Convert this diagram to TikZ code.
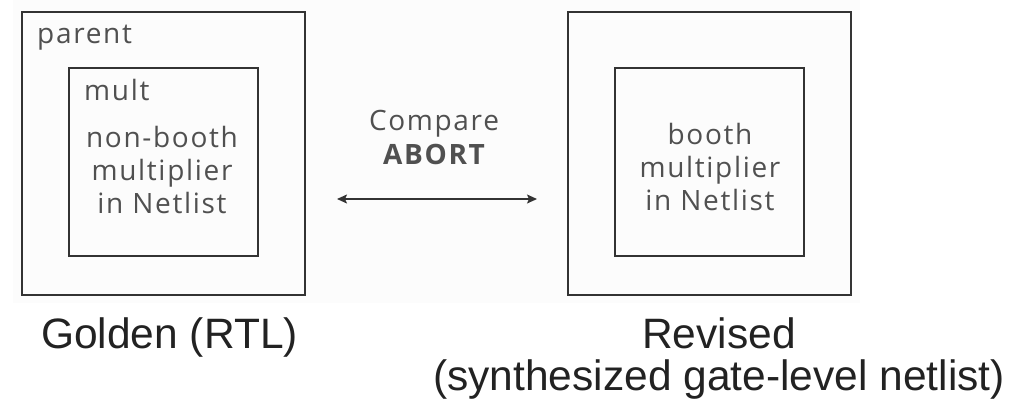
\documentclass[tikz,border=0pt]{standalone}
\usepackage{fontspec}
\usetikzlibrary{arrows.meta}
\newfontfamily\boxfont{Open Sans}[LetterSpace=6]
\newfontfamily\boxfontbold{Open Sans Bold}[LetterSpace=6]
\newfontfamily\capfont{Liberation Sans}
\definecolor{edge}{HTML}{333333}
\definecolor{boxtext}{HTML}{505050}
\definecolor{captext}{HTML}{222222}
\definecolor{panel}{HTML}{FCFCFC}
\tikzset{
  outerbox/.style={draw=edge, line width=2pt, minimum width=283pt, minimum height=283pt, inner sep=0pt},
  innerbox/.style={draw=edge, line width=2pt, minimum width=189pt, minimum height=188pt, inner sep=0pt},
  boxlabel/.style={anchor=base west, inner sep=0pt, text=boxtext, font=\boxfont\fontsize{28}{33}\selectfont},
  boxbody/.style={anchor=base, inner sep=0pt, align=center, text=boxtext, font=\boxfont\fontsize{28}{33}\selectfont},
  caption/.style={anchor=base, inner sep=0pt, align=center, text=captext, font=\capfont\fontsize{42.5}{42}\selectfont},
  link/.style={draw=edge, line width=1.5pt, {Stealth[length=10pt,width=9pt,inset=2pt]}-{Stealth[length=10pt,width=9pt,inset=2pt]}}
}
\begin{document}
\begin{tikzpicture}[x=1pt, y=-1pt]
\useasboundingbox (0,0) rectangle (1032,407);
\fill[panel] (13,0) rectangle (860,303);

% golden design (multi-line nodes are placed by their last baseline)
\node[outerbox] (goldparent) at (163.5,153) {};
\node[innerbox] (goldmult) at (163.5,162) {};
\node[boxlabel] (parentlbl) at (37,43) {parent};
\node[boxlabel] (multlbl) at (84,100) {mult};
\node[boxbody] (goldbody) at (162,213) {non-booth\\multiplier\\in Netlist};

% revised design
\node[outerbox] (revparent) at (709.5,153) {};
\node[innerbox] (revmult) at (709.5,162) {};
\node[boxbody] (revbody) at (710,210) {booth\\multiplier\\in Netlist};

% comparison
\node[boxbody] (cmp) at (434,164) {Compare\\[1pt]{\boxfontbold ABORT}};
\coordinate (arrL) at (337,199);
\coordinate (arrR) at (537,199);
\draw[link] (arrL) -- (arrR);

% captions
\node[caption] (goldcap) at (169.5,348) {Golden (RTL)};
\node[caption] (revcap) at (719,390) {Revised\\(synthesized gate-level netlist)};
\end{tikzpicture}
\end{document}
